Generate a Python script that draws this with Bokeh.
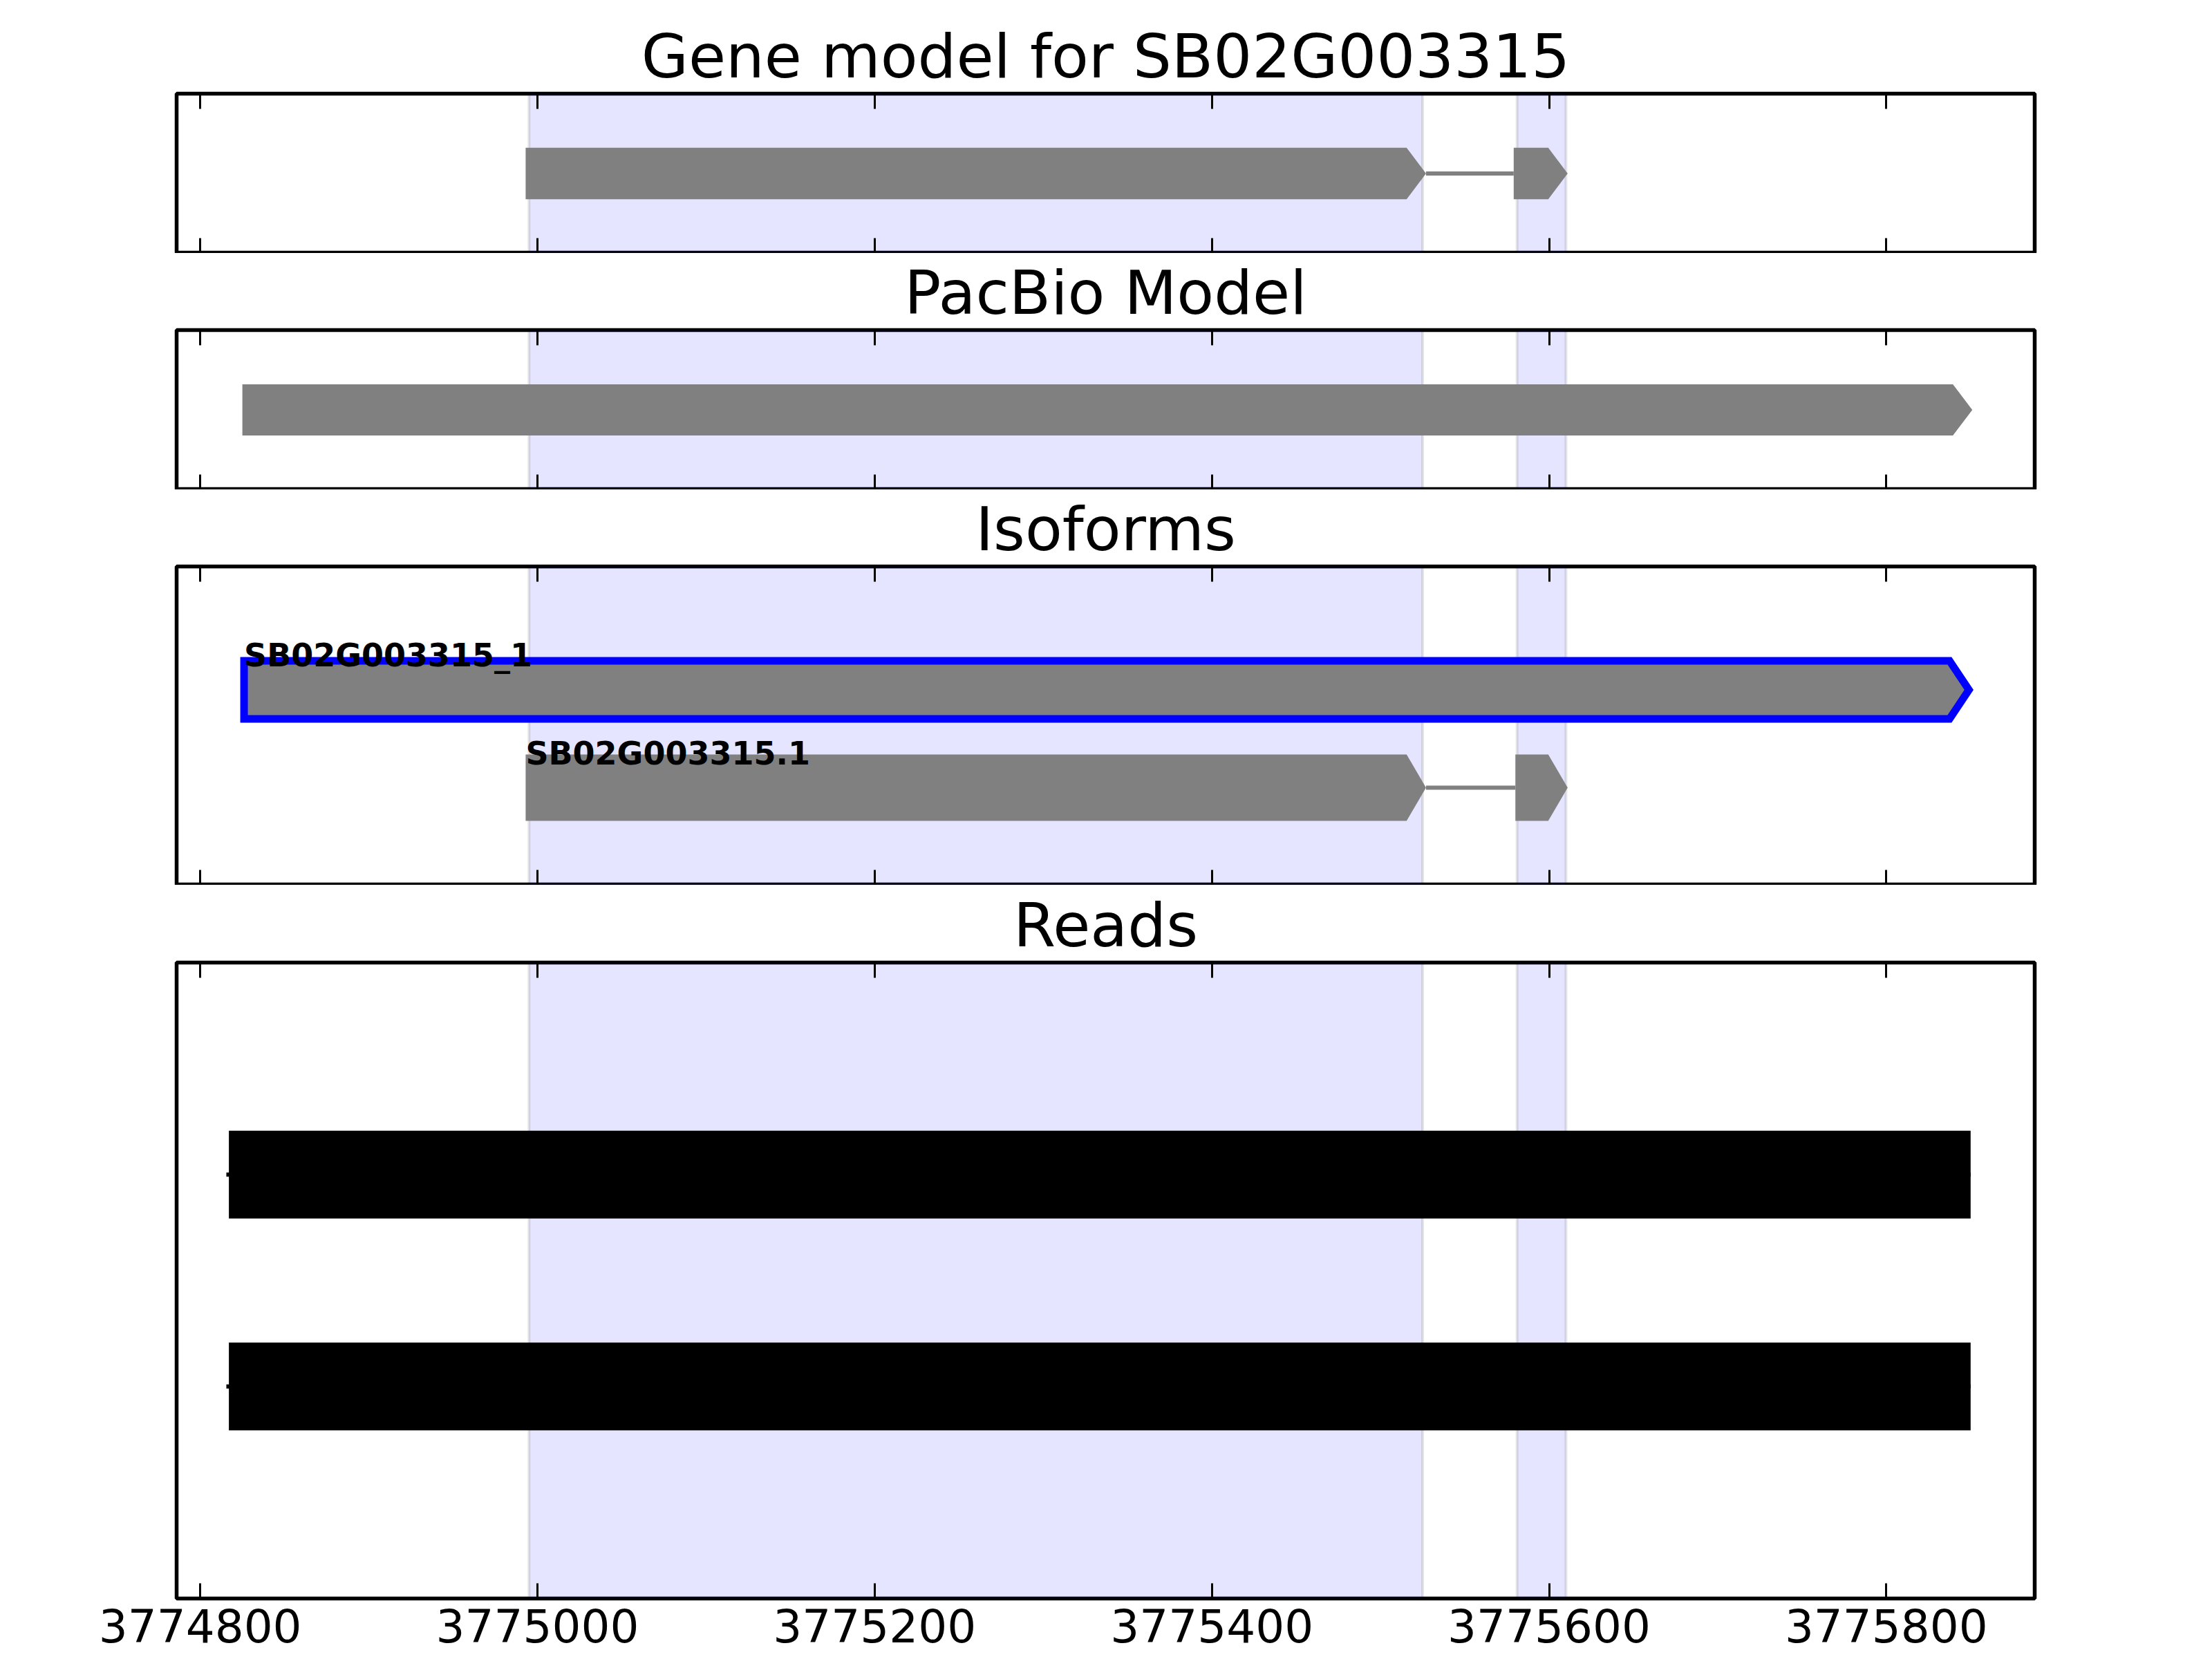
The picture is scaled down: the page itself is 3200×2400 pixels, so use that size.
from bokeh.plotting import figure
from bokeh.layouts import column
from bokeh.models import Range1d, BoxAnnotation, LinearAxis, FixedTicker, BasicTickFormatter
from bokeh.embed import file_html
from bokeh.resources import INLINE
from bokeh.core.properties import value

# ---------------- data ----------------
gene_name = "SB02G003315"
panel_titles = ["Gene model for " + gene_name, "PacBio Model", "Isoforms", "Reads"]
tick_values = [3774800, 3775000, 3775200, 3775400, 3775600, 3775800]
x_start, x_end = 3774786, 3775888

highlight_starts = [3774995, 3775581]
highlight_ends = [3775525, 3775610]

gene_exon_starts = [3774993, 3775579]
gene_exon_ends = [3775527, 3775611]

pacbio_exon_starts = [3774825]
pacbio_exon_ends = [3775851]

isoform_names = ["SB02G003315_1", "SB02G003315.1"]
isoform_exon_starts = [[3774826], [3774993, 3775580]]
isoform_exon_ends = [[3775849], [3775527, 3775611]]
isoform_selected = [True, False]

read_starts = [3774817, 3774817]
read_ends = [3775850, 3775850]

# ---------------- style ----------------
GRAY = "#808080"
FONT = "DejaVu Sans"
HEAD = 11.5  # arrow head length, data units
FRAME_W = 2688
LEFT = 255
RIGHT = 3200 - LEFT - FRAME_W
READ_LINE_PAD = 1.5  # small overhang of read line at its start


def arrow_shape(s, e, y, h, head):
    hd = min(head, e - s)
    xs = [s, e - hd, e, e - hd, s]
    ys = [y - h / 2, y - h / 2, y, y + h / 2, y + h / 2]
    return xs, ys


def style_axis(ax, labels):
    ax.ticker = FixedTicker(ticks=tick_values)
    ax.formatter = BasicTickFormatter(use_scientific=False)
    ax.major_tick_in = 22
    ax.major_tick_out = 0
    ax.major_tick_line_width = 3
    ax.major_tick_line_color = "black"
    ax.minor_tick_line_color = None
    ax.axis_line_color = None
    if labels:
        ax.major_label_text_font = FONT
        ax.major_label_text_font_size = "66px"
        ax.major_label_text_color = "black"
        ax.major_label_standoff = 14
    else:
        ax.major_label_text_color = None
        ax.major_label_text_font_size = "0px"
        ax.major_label_standoff = 0


def make_fig(title, frame_h, top, bottom, y_range, labels=False):
    p = figure(frame_width=FRAME_W, frame_height=frame_h,
               x_range=Range1d(x_start, x_end), y_range=y_range,
               output_backend="svg", toolbar_location=None, y_axis_location=None,
               min_border_left=LEFT, min_border_right=RIGHT,
               min_border_top=top, min_border_bottom=bottom)
    p.title.text = title
    p.title.text_font = FONT
    p.title.text_font_size = "88px"
    p.title.text_font_style = "normal"
    p.title.text_color = "black"
    p.title.align = "center"
    p.title.standoff = 6
    p.xgrid.visible = False
    p.ygrid.visible = False
    p.outline_line_color = "black"
    p.outline_line_width = 5.5
    p.outline_line_alpha = 1.0
    p.background_fill_color = "white"
    p.border_fill_color = "white"

    style_axis(p.xaxis[0], labels)
    top_ax = LinearAxis()
    style_axis(top_ax, False)
    p.add_layout(top_ax, "above")

    for hs, he in zip(highlight_starts, highlight_ends):
        p.add_layout(BoxAnnotation(left=hs, right=he, level="underlay",
                                   fill_color="blue", fill_alpha=0.1,
                                   line_color="black", line_alpha=0.1, line_width=4))
    return p


def draw_transcript(p, starts, ends, y, h, fill=GRAY, edge=None, edge_w=0):
    xs_list, ys_list = [], []
    for s, e in zip(starts, ends):
        xs, ys = arrow_shape(s, e, y, h, HEAD)
        xs_list.append(xs)
        ys_list.append(ys)
    if len(starts) > 1:
        p.segment(x0=ends[:-1], x1=starts[1:], y0=[y] * (len(starts) - 1),
                  y1=[y] * (len(starts) - 1), line_color=GRAY, line_width=6)
    if edge is None:
        p.patches(xs_list, ys_list, fill_color=fill, line_color=None)
    else:
        p.patches(xs_list, ys_list, fill_color=fill, line_color=edge,
                  line_width=edge_w, line_join="miter")


# Panel 1: gene model
p1 = make_fig(panel_titles[0], 231, 135, 0, Range1d(-1, 1))
draw_transcript(p1, gene_exon_starts, gene_exon_ends, 0, 0.644)

# Panel 2: PacBio model
p2 = make_fig(panel_titles[1], 231, 111, 0, Range1d(-1, 1))
draw_transcript(p2, pacbio_exon_starts, pacbio_exon_ends, 0, 0.64)

# Panel 3: isoforms
p3 = make_fig(panel_titles[2], 461, 111, 0, Range1d(1.9965, -1.2615))
for i, (name, st, en, sel) in enumerate(zip(isoform_names, isoform_exon_starts,
                                           isoform_exon_ends, isoform_selected)):
    if sel:
        draw_transcript(p3, st, en, i, 0.594, edge="blue", edge_w=11)
    else:
        draw_transcript(p3, st, en, i, 0.678)
p3.text(x=[st[0] for st in isoform_exon_starts],
        y=[i - 0.35 for i in range(len(isoform_names))],
        text=isoform_names, text_font=value(FONT), text_font_style="bold",
        text_font_size="46px", text_color="black",
        text_align="left", text_baseline="alphabetic")

# Panel 4: reads
p4 = make_fig(panel_titles[3], 920, 112, 88, Range1d(2, -1), labels=True)
rows = list(range(len(read_starts)))
p4.segment(x0=[s - READ_LINE_PAD for s in read_starts], x1=read_ends, y0=rows, y1=rows,
           line_color="black", line_width=6, line_cap="butt")
p4.quad(left=read_starts, right=read_ends,
        top=[r - 0.207 for r in rows], bottom=[r + 0.207 for r in rows],
        fill_color="black", line_color=None)

layout = column(p1, p2, p3, p4, spacing=0)
open("out.html", "w").write(file_html(layout, INLINE))
